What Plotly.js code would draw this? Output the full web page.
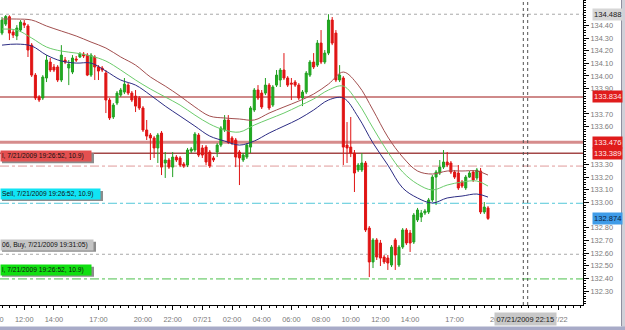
<!DOCTYPE html>
<html><head><meta charset="utf-8">
<script src="https://cdn.plot.ly/plotly-3.0.1.min.js"></script>
<style>html,body{margin:0;padding:0;background:#fff}#chart{width:625px;height:330px}</style>
</head><body><div id="chart"></div>
<script>
// ---- data (15 min candles, 2009-07-20 10:30 .. 2009-07-21 19:15) ----
const startTime = Date.UTC(2009, 6, 20, 10, 30);
const barMinutes = 15;
const openP = [134.339,134.410,134.468,134.347,134.316,134.363,134.418,134.395,134.244,134.007,133.834,133.826,133.984,134.110,134.071,134.071,133.968,134.126,134.063,134.031,134.134,134.150,134.173,134.165,134.007,134.150,134.071,134.063,134.023,133.810,133.676,133.786,133.849,133.873,133.928,133.865,133.841,133.826,133.747,133.573,133.533,133.510,133.431,133.549,133.312,133.336,133.280,133.359,133.352,133.304,133.296,133.407,133.415,133.533,133.431,133.438,133.399,133.352,133.399,133.454,133.573,133.652,133.510,133.494,133.399,133.336,133.359,133.438,133.731,133.889,133.865,133.865,133.928,133.770,133.928,133.968,134.047,133.984,133.944,133.952,133.928,133.826,133.873,134.007,134.110,134.086,134.260,134.110,134.181,134.442,134.339,133.968,133.984,133.454,133.438,133.391,133.257,133.257,133.312,132.798,132.530,132.704,132.680,132.569,132.561,132.506,132.704,132.506,132.648,132.783,132.759,132.688,132.862,132.885,132.917,132.925,133.020,133.201,133.233,133.280,133.320,133.312,133.241,133.233,133.162,133.115,133.201,133.241,133.194,133.249,132.925,132.957];
const highP = [134.466,134.482,134.480,134.363,134.402,134.442,134.442,134.410,134.260,134.023,133.849,134.007,134.165,134.142,134.094,134.086,134.244,134.150,134.126,134.165,134.158,134.189,134.189,134.181,134.181,134.165,134.086,134.079,134.047,133.826,133.786,133.881,133.905,133.984,133.944,133.881,133.889,133.841,133.762,133.652,133.549,133.525,133.549,133.565,133.399,133.352,133.399,133.375,133.367,133.320,133.431,133.438,133.557,133.549,133.454,133.454,133.415,133.367,133.470,133.604,133.691,133.691,133.525,133.510,133.415,133.391,133.470,133.762,133.905,133.928,133.889,133.984,133.944,133.928,134.047,134.063,134.181,133.999,133.984,133.968,133.944,133.889,134.039,134.126,134.181,134.284,134.363,134.205,134.488,134.466,134.363,134.086,133.999,133.636,133.676,133.415,133.312,133.391,133.328,132.814,132.719,132.719,132.704,132.585,132.585,132.664,132.719,132.664,132.798,132.798,132.783,132.917,132.957,132.941,132.949,133.036,133.217,133.257,133.336,133.415,133.399,133.328,133.257,133.296,133.178,133.217,133.249,133.257,133.273,133.273,133.004,132.972];
const lowP = [134.323,134.395,134.284,134.300,134.284,134.347,134.379,134.150,133.992,133.810,133.794,133.810,133.952,134.031,134.031,133.952,133.952,134.094,133.928,134.015,134.110,134.142,134.142,133.999,133.992,133.968,133.968,134.031,133.707,133.652,133.660,133.770,133.834,133.857,133.849,133.794,133.715,133.731,133.557,133.494,133.336,133.352,133.312,133.217,133.194,133.265,133.201,133.320,133.280,133.273,133.280,133.391,133.399,133.359,133.352,133.296,133.273,133.320,133.359,133.438,133.557,133.462,133.454,133.280,133.138,133.320,133.344,133.391,133.715,133.810,133.739,133.849,133.731,133.755,133.913,133.913,133.968,133.913,133.810,133.913,133.810,133.762,133.857,133.992,134.055,134.071,134.094,134.094,134.165,134.244,133.952,133.952,133.296,133.312,133.359,133.083,133.241,133.241,132.767,132.411,132.482,132.546,132.498,132.514,132.467,132.490,132.467,132.490,132.633,132.664,132.609,132.672,132.846,132.846,132.901,132.909,133.004,132.980,133.217,133.265,133.280,133.225,133.186,133.099,133.115,133.099,133.194,133.162,133.178,132.909,132.909,132.862];
const closeP = [134.442,134.470,134.339,134.323,134.379,134.426,134.402,134.205,134.007,133.826,133.810,133.992,134.126,134.047,134.047,133.968,134.165,134.110,134.094,134.142,134.126,134.173,134.158,134.007,134.165,134.071,134.039,134.047,133.810,133.668,133.770,133.865,133.889,133.936,133.865,133.810,133.762,133.747,133.573,133.525,133.510,133.431,133.533,133.280,133.336,133.280,133.359,133.336,133.296,133.288,133.415,133.423,133.541,133.375,133.375,133.320,133.288,133.336,133.454,133.589,133.652,133.476,133.470,133.359,133.352,133.375,133.454,133.747,133.889,133.826,133.755,133.928,133.747,133.913,134.007,134.047,133.984,133.928,133.936,133.928,133.826,133.873,134.023,134.110,134.071,134.260,134.110,134.181,134.442,134.260,133.968,134.007,133.438,133.431,133.391,133.233,133.296,133.312,132.783,132.530,132.704,132.569,132.561,132.530,132.522,132.648,132.585,132.648,132.783,132.680,132.680,132.901,132.941,132.917,132.933,133.020,133.201,133.241,133.280,133.320,133.296,133.241,133.201,133.115,133.130,133.201,133.233,133.178,133.257,132.925,132.964,132.874];

// moving-average style bands, sampled hourly (every 4th bar) plus the last bar
const maBarIdx = [0,4,8,12,16,20,24,28,32,36,40,44,48,52,56,60,64,68,72,76,80,84,88,92,96,100,104,108,112,116,120,124,128,131];
const maUpper = [134.450,134.450,134.442,134.395,134.355,134.316,134.268,134.221,134.150,134.086,133.992,133.920,133.841,133.755,133.683,133.668,133.660,133.652,133.707,133.755,133.802,133.857,133.936,134.031,133.928,133.731,133.518,133.359,133.249,133.225,133.249,133.249,133.249,133.217];
const maMid = [134.371,134.363,134.300,134.229,134.197,134.181,134.158,134.118,134.047,133.968,133.897,133.834,133.770,133.691,133.620,133.573,133.557,133.612,133.660,133.707,133.762,133.818,133.889,133.920,133.786,133.589,133.399,133.241,133.146,133.099,133.138,133.162,133.170,133.130];
const maLower = [134.244,134.252,134.237,134.165,134.118,134.102,134.102,134.039,133.968,133.928,133.849,133.762,133.683,133.604,133.525,133.486,133.454,133.486,133.549,133.604,133.660,133.731,133.810,133.826,133.676,133.470,133.296,133.115,133.036,132.996,133.036,133.051,133.067,133.043];

// price levels
const highLevel = 134.488;
const solidLevels = [133.834, 133.476, 133.389];
const dashLevels = [133.288, 132.994, 132.591, 132.396];
const lastPrice = 132.874;

// axis ticks (labels hidden under the level boxes are left out)
const yTickVals = [132.3,132.4,132.5,132.6,132.7,132.8,133.0,133.1,133.2,133.3,133.6,133.7,133.9,134.0,134.1,134.2,134.3,134.4];
const xTickVals = ['2009-07-20 12:00','2009-07-20 14:00','2009-07-20 17:00','2009-07-20 20:00','2009-07-20 22:00','2009-07-21 00:00','2009-07-21 02:00','2009-07-21 04:00','2009-07-21 06:00','2009-07-21 08:00','2009-07-21 10:00','2009-07-21 12:00','2009-07-21 14:00','2009-07-21 17:00','2009-07-21 20:00','2009-07-22 00:00'];
const xTickText = ['12:00','14:00','17:00','20:00','22:00','07/21','02:00','04:00','06:00','08:00','10:00','12:00','14:00','17:00','20:00','07/22'];

// order labels (left side)
const orderLabels = [
  {text:'l, 7/21/2009 19:26:52, 10.9)', bg:'#e45050'},
  {text:'Sell, 7/21/2009 19:26:52, 10.9)', bg:'#10e4f4'},
  {text:'06, Buy, 7/21/2009 19:31:05)', bg:'#c4c4c4'},
  {text:'l, 7/21/2009 19:26:52, 10.9)', bg:'#10e010'}
];

// ---- build ----
function fmt(ms){ return new Date(ms).toISOString().slice(0,19).replace('T',' '); }
const times = openP.map((_, i) => fmt(startTime + i * barMinutes * 60000));
const maTimes = maBarIdx.map(i => times[i]);

const FONT = 'Liberation Sans, Arial, sans-serif';
const W = 583, H = 305; // plot area in px

const traces = [
  {type:'scatter', mode:'lines', x: maTimes, y: maUpper, line:{color:'#a24f4f', width:1, shape:'spline'}, hoverinfo:'skip'},
  {type:'scatter', mode:'lines', x: maTimes, y: maMid, line:{color:'#6ccc6c', width:1, shape:'spline'}, hoverinfo:'skip'},
  {type:'scatter', mode:'lines', x: maTimes, y: maLower, line:{color:'#2c2c84', width:1, shape:'spline'}, hoverinfo:'skip'},
  {type:'candlestick', x: times, open: openP, high: highP, low: lowP, close: closeP,
   increasing:{line:{color:'#22a022', width:1}, fillcolor:'#1fb01f'},
   decreasing:{line:{color:'#e01414', width:1}, fillcolor:'#e01414'},
   whiskerwidth:0, hoverinfo:'skip'}
];

const shapes = [];
shapes.push({type:'line', xref:'paper', x0:0, x1:1, yref:'y', y0:highLevel, y1:highLevel, line:{color:'#a8a8a8', width:1, dash:'dot'}, layer:'below'});
const solidStyles = [{c:'#cf8a8a', w:2}, {c:'#d68c8c', w:3}, {c:'#a44848', w:1.5}];
solidLevels.forEach((v, k) => shapes.push({type:'line', xref:'paper', x0:0, x1:1, yref:'y', y0:v, y1:v, line:{color:solidStyles[k].c, width:solidStyles[k].w}, layer:'below'}));
const dashStyles = [{c:'#e09a9a', d:'dashdot'}, {c:'#52c8d8', d:'dashdot'}, {c:'#a8a8a8', d:'dot'}, {c:'#4cc04c', d:'dashdot'}];
dashLevels.forEach((v, k) => shapes.push({type:'line', xref:'paper', x0:0, x1:1, yref:'y', y0:v, y1:v, line:{color:dashStyles[k].c, width:1, dash:dashStyles[k].d}, layer:'below'}));
// vertical dotted markers
[523.3, 527.7].forEach(px => shapes.push({type:'line', xref:'paper', x0:px/W, x1:px/W, yref:'paper', y0:0, y1:1, line:{color:'#505050', width:1, dash:'dot'}}));
// window frame (right + bottom)
shapes.push({type:'rect', xref:'paper', yref:'paper', x0:621/W, x1:626/W, y0:-26/H, y1:1.01, fillcolor:'#d0d0d8', line:{width:0}});
shapes.push({type:'line', xref:'paper', yref:'paper', x0:621.5/W, x1:621.5/W, y0:-21/H, y1:1.01, line:{color:'#9090a0', width:1}});
shapes.push({type:'rect', xref:'paper', yref:'paper', x0:-0.01, x1:626/W, y0:-26/H, y1:-21.5/H, fillcolor:'#a8abc8', line:{width:0}});

const annotations = [];
// right price labels
function priceLabel(v, bg, fg){
  annotations.push({xref:'paper', x:591.5/W, xanchor:'left', yref:'y', y:v, yanchor:'middle', text:v.toFixed(3),
    showarrow:false, bgcolor:bg, borderpad:1, font:{family:FONT, size:7.6, color:fg}});
}
priceLabel(highLevel, '#d6d6d6', '#202020');
solidLevels.forEach(v => priceLabel(v, '#e01c1c', '#ffe8e8'));
priceLabel(lastPrice, '#3f9ce8', '#0c1c40');

// left order labels with a drop shadow drawn as a rectangle
const labelPx = [156.3, 194, 244.7, 269.7];
const labelW = [88, 97, 90, 88];
orderLabels.forEach((o, k) => {
  const c = labelPx[k];
  const boxW = labelW[k] + 4;
  shapes.push({type:'rect', xref:'paper', yref:'paper', x0:2/W, x1:(boxW + 2)/W, y0:1 - (c + 7)/H, y1:1 - (c - 3)/H,
    fillcolor:'#8c8c8c', line:{width:0}, layer:'above'});
  annotations.push({xref:'paper', x:0, xanchor:'left', yref:'paper', y:1 - c / H, yanchor:'middle', text:o.text, showarrow:false,
    width:labelW[k], align:'left', bgcolor:o.bg, borderpad:1, font:{family:FONT, size:6.7, color:'#101010'}});
});
// cut-off 10:00 label at the left edge
annotations.push({xref:'paper', x:-5.4/W, xanchor:'center', yref:'paper', y:-14/H, yanchor:'middle', text:'10:00', showarrow:false,
  font:{family:FONT, size:7.4, color:'#7a7a7a'}});
// current time box on the time axis
annotations.push({xref:'paper', x:525/W, xanchor:'center', yref:'paper', y:-14/H, yanchor:'middle', text:'07/21/2009 22:15', showarrow:false,
  bgcolor:'#c8c8c8', borderpad:1.5, font:{family:FONT, size:7.4, color:'#1a1a1a'}});

const layout = {
  width:625, height:330,
  margin:{l:0, r:42, t:0, b:25, pad:0},
  paper_bgcolor:'#ffffff', plot_bgcolor:'#ffffff',
  showlegend:false,
  boxgap:0.22,
  hovermode:false,
  xaxis:{type:'date', range:['2009-07-20 10:21:55','2009-07-22 01:39:05'], rangeslider:{visible:false},
    tickmode:'array', tickvals:xTickVals, ticktext:xTickText,
    showgrid:false, zeroline:false, showline:true, linecolor:'#000', linewidth:1,
    ticks:'outside', ticklen:4, tickcolor:'#000', tickwidth:1, ticklabelstandoff:3,
    minor:{ticks:'outside', ticklen:2, tickcolor:'#000', dtick:1800000, tick0:'2009-07-20 00:00', showgrid:false},
    tickfont:{family:FONT, size:7.4, color:'#7a7a7a'}, fixedrange:true},
  yaxis:{side:'right', range:[132.19, 134.6005],
    tickmode:'array', tickvals:yTickVals, tickformat:'.2f',
    showgrid:false, zeroline:false, showline:true, linecolor:'#000', linewidth:1,
    ticks:'outside', ticklen:5, tickcolor:'#000', tickwidth:1,
    minor:{ticks:'outside', ticklen:2, tickcolor:'#000', dtick:0.02, tick0:132.2, showgrid:false},
    tickfont:{family:FONT, size:7.4, color:'#7a7a7a'}, fixedrange:true},
  shapes:shapes,
  annotations:annotations
};

Plotly.newPlot('chart', traces, layout, {staticPlot:true, displayModeBar:false});
</script>
</body></html>
